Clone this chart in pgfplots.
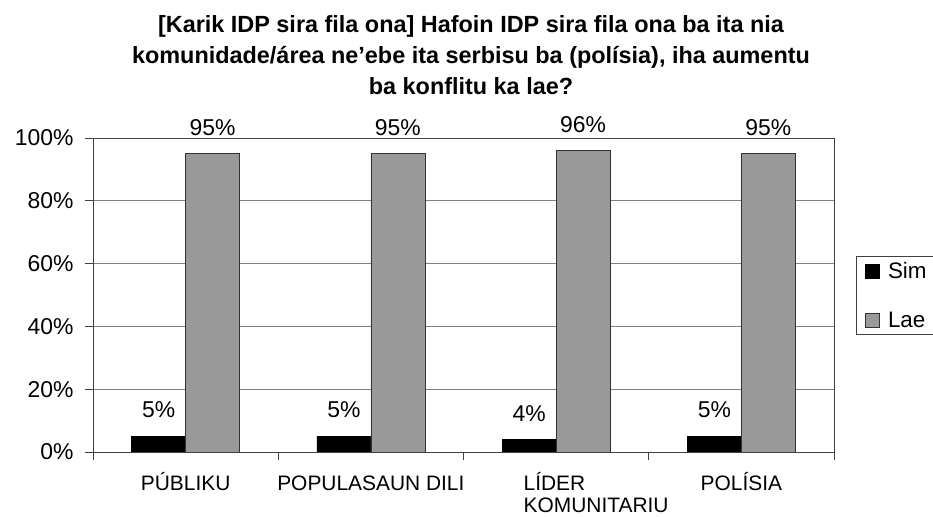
\documentclass[border=0pt]{standalone}
\usepackage{fontspec}
\setmainfont{Liberation Sans}
\usepackage{pgfplots}
\pgfplotsset{compat=1.18}
\definecolor{laegray}{RGB}{153,153,153}
\definecolor{gridgray}{RGB}{128,128,128}
\begin{document}
\begin{tikzpicture}[x=1bp,y=1bp]
\useasboundingbox (-93,-65) rectangle (840,452);
\begin{axis}[
  at={(0,0)}, anchor=south west,
  scale only axis, width=741bp, height=314bp,
  ymin=0, ymax=100, ytick={0,20,40,60,80,100},
  yticklabel={\pgfmathprintnumber{\tick}\%},
  /pgf/number format/assume math mode=true,
  xmin=-0.5, xmax=3.5,
  xtick={0,1,2,3},
  xticklabels={PÚBLIKU, POPULASAUN DILI, {\hspace*{80bp}\vtop{\hbox{LÍDER}\hbox{KOMUNITARIU}}}, POLÍSIA},
  minor xtick={-0.5,0.5,1.5,2.5,3.5},
  major x tick style={draw=none},
  tick align=outside,
  major tick length=8bp, minor tick length=8bp,
  xtick pos=bottom, ytick pos=left,
  ymajorgrids, grid style={gridgray, line width=0.8bp},
  axis line style={black!75, line width=0.8bp},
  tick style={black!75, line width=0.8bp},
  xticklabel style={font=\fontsize{21}{22}\selectfont, text height=16bp, text depth=5bp, anchor=north, yshift=-11bp},
  yticklabel style={font=\fontsize{23}{24}\selectfont, xshift=-8bp},
  ybar=0pt, bar width=54bp,
  nodes near coords={\pgfmathprintnumber{\pgfplotspointmeta}\%},
  every node near coord/.append style={font=\fontsize{23}{23}\selectfont, anchor=south, inner sep=0pt, yshift=18bp, black},
  legend style={at={(1.0297,0.625)}, anchor=north west, draw=black!75, line width=0.8bp,
     font=\fontsize{22.5}{23}\selectfont, row sep=28bp, inner xsep=9bp, inner ysep=4bp,
     nodes={inner xsep=6bp}},
  legend cell align=left,
  legend image code/.code={\draw[#1, line width=0.6bp] (0bp,-7bp) rectangle (14bp,7bp);},
]
\addplot[fill=black, draw=black] coordinates {(0,5) (1,5) (2,4) (3,5)};
\addplot[fill=laegray, draw=black!80] coordinates {(0,95) (1,95) (2,96) (3,95)};
\legend{\hspace*{2bp}Sim, \hspace*{2bp}Lae}
\end{axis}
\node[align=center, font=\bfseries\fontsize{23.5}{31}\selectfont] at (378,397) {[Karik IDP sira fila ona] Hafoin IDP sira fila ona ba ita nia\\komunidade/área ne’ebe ita serbisu ba (polísia), iha aumentu\\ba konflitu ka lae?};
\end{tikzpicture}
\end{document}
